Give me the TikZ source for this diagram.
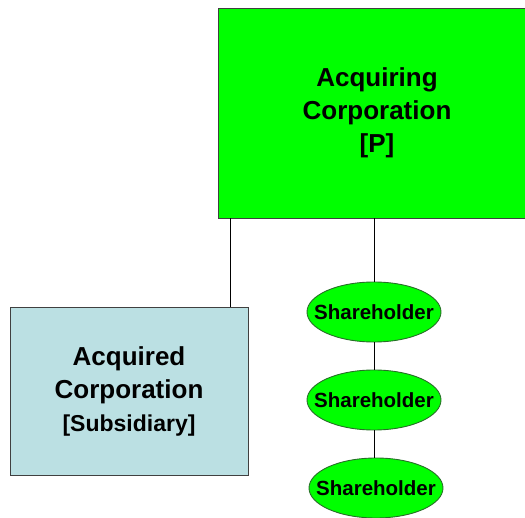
\documentclass[tikz,border=0pt]{standalone}
\usepackage{fontspec}
\setmainfont{Liberation Sans}
\usetikzlibrary{shapes.geometric,positioning}
\definecolor{boxgreen}{RGB}{0,255,0}
\definecolor{subblue}{RGB}{187,224,227}
\definecolor{edgegray}{RGB}{64,64,64}
\definecolor{shgreen}{RGB}{40,110,40}

\begin{document}
\begin{tikzpicture}[x=1pt,y=1pt,inner sep=0pt,
  corpbox/.style={draw=edgegray,line width=0.9pt,align=center,font=\bfseries\fontsize{26}{33}\selectfont},
  holder/.style={ellipse,draw=shgreen,line width=0.9pt,fill=boxgreen,minimum width=134pt,minimum height=60pt},
  holdertext/.style={font=\bfseries\fontsize{20.5}{24}\selectfont},
  link/.style={line width=0.8pt,black}]
\useasboundingbox (0,0) rectangle (525,517);

% parent and subsidiary
\node (parent) at (377,404)[corpbox,fill=boxgreen,minimum width=318pt,minimum height=210pt]{Acquiring\\Corporation\\{[P]}};
\node (sub) at (129,126)[corpbox,fill=subblue,minimum width=238pt,minimum height=168pt]{Acquired\\Corporation\\{\fontsize{23}{26}\selectfont[Subsidiary]}};

% shareholders
\node (sh1) at (374,205)[holder,label={[holdertext]center:Shareholder}]{};
\node (sh2) at (374,117)[holder,label={[holdertext]center:Shareholder}]{};
\node (sh3) at (376,29)[holder,label={[holdertext]center:Shareholder}]{};

\draw[link] ([xshift=13pt]parent.south west) -- ([xshift=13pt]parent.south west |- sub.north);
\draw[link] (sh1.north |- parent.south) -- (sh1.north);
\draw[link] (sh1.south) -- (sh2.north);
\draw[link] (sh2.south) -- (sh2.south |- sh3.north);

\end{tikzpicture}
\end{document}
